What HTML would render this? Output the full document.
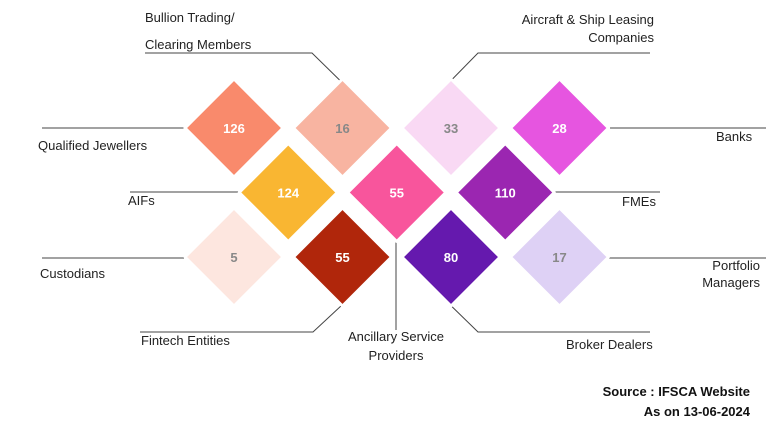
<!DOCTYPE html>
<html><head><meta charset="utf-8"><style>
body{margin:0;background:#fff;}
svg{display:block;font-family:"Liberation Sans",sans-serif;}
.l{font-size:13px;fill:#222;}
.n{font-size:13px;font-weight:bold;text-anchor:middle;}
</style></head><body>
<svg id="c" width="768" height="423" viewBox="0 0 768 423">
<g id="lines" stroke="#444" stroke-width="1" fill="none">
<polyline points="42,128 186,128"/>
<polyline points="145,53 312,53 362,102"/>
<polyline points="650,53 478,53 428,104"/>
<polyline points="607,128 766,128"/>
<polyline points="130,192 240,192"/>
<polyline points="553,192 660,192"/>
<polyline points="42,258 184,258"/>
<polyline points="607,258 766,258"/>
<polyline points="140,332 313,332 356,292"/>
<polyline points="396,240 396,330"/>
<polyline points="650,332 478,332 438,293"/>
</g>
<g id="diamonds"></g>
<g>
<text class="l" x="145" y="22">Bullion Trading/</text>
<text class="l" x="145" y="49">Clearing Members</text>
<text class="l" x="654" y="24" text-anchor="end">Aircraft &amp; Ship Leasing</text>
<text class="l" x="654" y="42" text-anchor="end">Companies</text>
<text class="l" x="38" y="150">Qualified Jewellers</text>
<text class="l" x="716" y="141">Banks</text>
<text class="l" x="128" y="205">AIFs</text>
<text class="l" x="622" y="206">FMEs</text>
<text class="l" x="40" y="278">Custodians</text>
<text class="l" x="760" y="270" text-anchor="end">Portfolio</text>
<text class="l" x="760" y="287" text-anchor="end">Managers</text>
<text class="l" x="141" y="345">Fintech Entities</text>
<text class="l" x="396" y="341" text-anchor="middle">Ancillary Service</text>
<text class="l" x="396" y="360" text-anchor="middle">Providers</text>
<text class="l" x="566" y="349">Broker Dealers</text>
<text x="750" y="396" text-anchor="end" font-size="13" font-weight="bold" fill="#111">Source : IFSCA Website</text>
<text x="750" y="416" text-anchor="end" font-size="13" font-weight="bold" fill="#111">As on 13-06-2024</text>
</g>
</svg>
<script>
const names=["Qualified Jewellers","Bullion Trading","Aircraft & Ship Leasing","Banks","AIFs","Ancillary Service Providers","FMEs","Custodians","Fintech Entities","Broker Dealers","Portfolio Managers"];
const values=[126,16,33,28,124,55,110,5,55,80,17];
const cols=[0,1,2,3,0.5,1.5,2.5,0,1,2,3];
const rows=[0,0,0,0,1,1,1,2,2,2,2];
const fills=["#F98A6C","#F8B4A1","#F9D9F4","#E655E0","#F9B632","#F8559C","#9B26B1","#FDE6DF","#B0260B","#6519AE","#DED1F5"];
const textCols=["#fff","#888","#888","#fff","#fff","#fff","#fff","#888","#fff","#fff","#888"];
const xs=c=>234+c*108.5, ys=r=>128+r*64.5, h=49;
const g=document.getElementById('diamonds');
const ns="http://www.w3.org/2000/svg";
values.forEach((v,i)=>{
 const cx=xs(cols[i]),cy=ys(rows[i]);
 const p=document.createElementNS(ns,'polygon');
 p.setAttribute('points',`${cx},${cy-h} ${cx+h},${cy} ${cx},${cy+h} ${cx-h},${cy}`);
 p.setAttribute('fill',fills[i]);p.setAttribute('stroke','#fff');p.setAttribute('stroke-width','3');p.setAttribute('stroke-linejoin','round');
 
 
 g.appendChild(p);
 const t=document.createElementNS(ns,'text');
 t.setAttribute('x',cx);t.setAttribute('y',cy+5);t.setAttribute('class','n');t.setAttribute('fill',textCols[i]);
 t.textContent=v;
 
 
 g.appendChild(t);
});
</script>
</body></html>
